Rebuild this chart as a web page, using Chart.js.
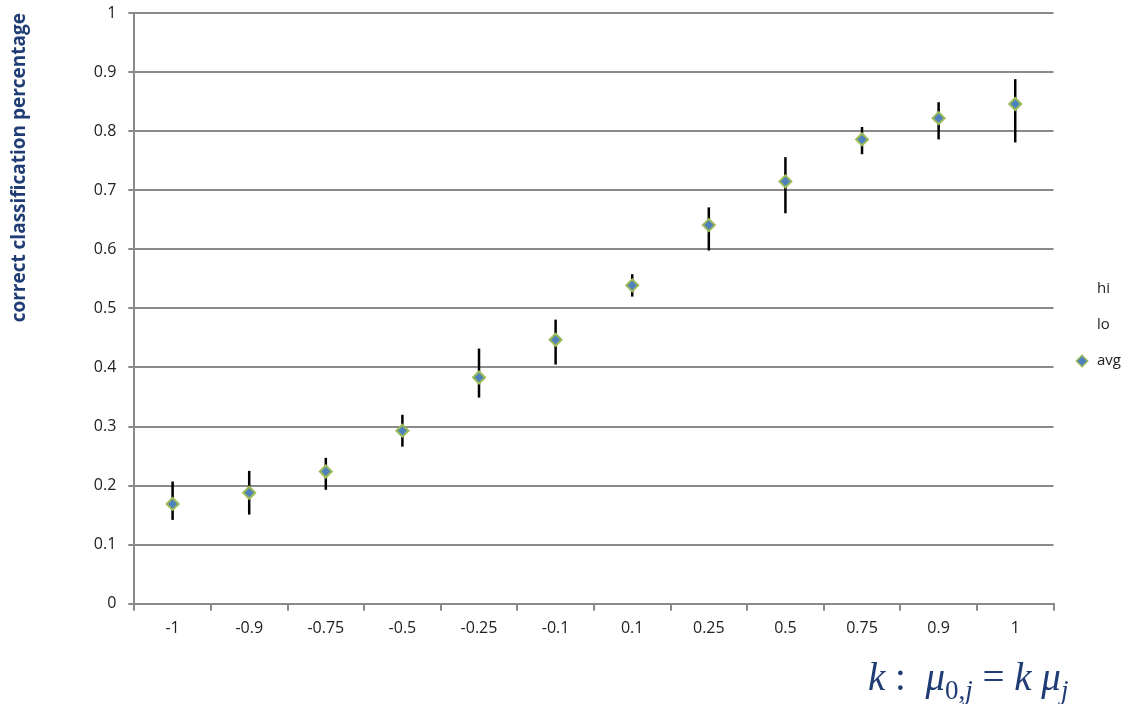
<!DOCTYPE html>
<html>
<head>
<meta charset="utf-8">
<script src="https://cdn.jsdelivr.net/npm/chart.js@4.4.1/dist/chart.umd.min.js"></script>
<style>
    html, body { margin: 0; padding: 0; background: #fff; }
    #wrap { position: relative; width: 1132px; height: 704px; }
    #xtitle {
        position: absolute;
        left: 868px;
        top: 654px;
        font-family: "Liberation Serif", "DejaVu Serif", serif;
        font-size: 39px;
        color: #1f3c74;
        white-space: nowrap;
    }
    #xtitle i { font-style: italic; }
    #xtitle sub { font-size: 27px; vertical-align: -9px; }
</style>
</head>
<body>
<div id="wrap">
    <canvas id="chart" width="1132" height="704"></canvas>
    <div id="xtitle"><i>k</i> :&nbsp; <i>μ</i><sub>0,<i>j</i></sub>&nbsp;= <i>k</i> <i>μ</i><sub><i>j</i></sub></div>
</div>
<script>
const categories = ['-1', '-0.9', '-0.75', '-0.5', '-0.25', '-0.1', '0.1', '0.25', '0.5', '0.75', '0.9', '1'];
const hiValues = [0.207, 0.225, 0.247, 0.320, 0.432, 0.481, 0.558, 0.671, 0.756, 0.807, 0.849, 0.888];
const loValues = [0.142, 0.151, 0.193, 0.266, 0.349, 0.405, 0.520, 0.598, 0.661, 0.761, 0.786, 0.781];
const avgValues = [0.169, 0.188, 0.224, 0.293, 0.383, 0.447, 0.539, 0.641, 0.715, 0.786, 0.822, 0.846];

const FONT = '"Open Sans", "Liberation Sans", sans-serif';
const GRID_COLOR = '#8a8a8a';

// vertical hi-lo lines, drawn under the avg markers
const hiLoLines = {
    id: 'hiLoLines',
    beforeDatasetsDraw(chart) {
        const { ctx, scales } = chart;
        ctx.save();
        ctx.strokeStyle = '#000';
        ctx.lineWidth = 2.5;
        categories.forEach((cat, i) => {
            const x = scales.x.getPixelForValue(i);
            ctx.beginPath();
            ctx.moveTo(x, scales.y.getPixelForValue(hiValues[i]));
            ctx.lineTo(x, scales.y.getPixelForValue(loValues[i]));
            ctx.stroke();
        });
        ctx.restore();
    }
};

new Chart(document.getElementById('chart'), {
    type: 'line',
    data: {
        labels: categories,
        datasets: [
            { label: 'hi', data: hiValues, showLine: false, pointRadius: 0, pointHoverRadius: 0,
              borderColor: 'transparent', backgroundColor: 'transparent' },
            { label: 'lo', data: loValues, showLine: false, pointRadius: 0, pointHoverRadius: 0,
              borderColor: 'transparent', backgroundColor: 'transparent' },
            { label: 'avg', data: avgValues, showLine: false, pointStyle: 'rectRot',
              pointRadius: 6, pointHoverRadius: 6, pointBorderWidth: 2,
              borderColor: '#9bbb59', backgroundColor: '#4f81bd' }
        ]
    },
    options: {
        responsive: false,
        animation: false,
        events: [],
        layout: { padding: { left: 4, top: 4, right: 1, bottom: 58 } },
        plugins: {
            tooltip: { enabled: false },
            legend: {
                position: 'right',
                labels: {
                    usePointStyle: true,
                    boxWidth: 15,
                    boxHeight: 8,
                    padding: 21,
                    color: '#222',
                    font: { family: FONT, size: 15 },
                    generateLabels(chart) {
                        return chart.data.datasets.map((ds, i) => ({
                            text: ds.label,
                            datasetIndex: i,
                            pointStyle: 'rectRot',
                            fillStyle: i === 2 ? '#4f81bd' : 'transparent',
                            strokeStyle: i === 2 ? '#9bbb59' : 'transparent',
                            lineWidth: i === 2 ? 1.5 : 0,
                            fontColor: '#222',
                            hidden: false
                        }));
                    }
                }
            }
        },
        scales: {
            x: {
                offset: true,
                border: { color: GRID_COLOR, width: 2 },
                grid: { offset: true, drawOnChartArea: false, drawTicks: true, tickLength: 7, color: GRID_COLOR, lineWidth: 2 },
                ticks: { color: '#222', font: { family: FONT, size: 16 }, padding: 8, maxRotation: 0 }
            },
            y: {
                min: 0,
                max: 1,
                border: { color: GRID_COLOR, width: 2 },
                grid: { color: GRID_COLOR, lineWidth: 2, tickLength: 6 },
                ticks: {
                    stepSize: 0.1,
                    color: '#222',
                    font: { family: FONT, size: 16 },
                    padding: 12,
                    callback(value) {
                        return String(Number(value.toFixed(1)));
                    }
                },
                title: {
                    display: true,
                    text: 'correct classification percentage',
                    align: 'end',
                    color: '#1f3c74',
                    font: { family: FONT, size: 19, weight: 'bold' },
                    padding: { bottom: 51 }
                },
                afterFit(scale) {
                    // keep the top gridline close to the canvas edge
                    scale.paddingTop = 13;
                }
            }
        }
    },
    plugins: [hiLoLines]
});
</script>
</body>
</html>
